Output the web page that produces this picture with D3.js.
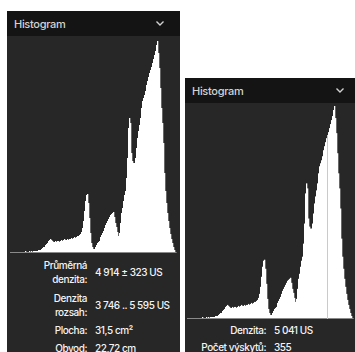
<!DOCTYPE html>
<html><head><meta charset="utf-8">
<script src="https://cdn.jsdelivr.net/npm/d3@7"></script>
<style>
html,body{margin:0;padding:0;background:#fff;}
svg{display:block;}
text{font-family:Inter,"Noto Sans",sans-serif;}
</style></head>
<body>
<svg id="c" width="355" height="352"></svg>
<script>
// Histogram bins: density start (US), bin width, counts per bin
const densityStart = 3640;
const binWidth = 10;
const counts = [
  1,1,1,1,1,1,1,1,1,1, 1,1,1,1,1,2,1,1,1,2, 1,2,1,2,2,2,2,2,3,3,
  3,4,5,6,6,8,9,10,12,13,
  14,13,12,11,11,12,11,12,12,11,
  12,13,12,13,14,13,13,14,13,14,
  14,15,14,15,16,15,16,17,17,18,
  19,21,25,32,42,52,58,59,50,35,
  20,10,6,4,4,6,8,10,11,12,
  16,18,20,22,25,28,30,32,34,36,
  38,39,40,41,36,30,26,21,17,20,
  30,40,45,52,58,62,75,95,125,135,
  130,100,92,90,90,95,105,115,122,128,
  135,145,152,155,158,162,168,172,176,180,
  183,186,190,194,198,202,208,212,200,185,
  165,145,130,110,80,62,50,40,32,25,
  19,14,10,6,3,1
];
const title = "Histogram";
const leftLabels = [["Průměrná","denzita:"],["Denzita","rozsah:"],["Plocha:"],["Obvod:"]];
const leftValues = ["4 914 ± 323 US","3 746 .. 5 595 US","31,5 cm²","22,72 cm"];
const rightLabels = [["Denzita:"],["Počet výskytů:"]];
const rightValues = ["5 041 US","355"];
const markerDensity = 5041;

const svg = d3.select("#c");
const densities = counts.map((c,i)=>densityStart + i*binWidth);

function panel(opt){
  const g = svg.append("g");
  g.append("rect").attr("x",opt.x).attr("y",opt.y).attr("width",opt.w).attr("height",opt.h).attr("fill","#272727");
  g.append("rect").attr("x",opt.x).attr("y",opt.y).attr("width",opt.w).attr("height",25).attr("fill","#141414");
  g.append("text").attr("x",opt.x+7).attr("y",opt.y+16.5).attr("fill","#d2d2d2")
    .attr("font-size",11).attr("font-weight",500).attr("letter-spacing",-0.3).text(title);
  const cx = opt.x + opt.chev, cy = opt.y + 12.5;
  g.append("path").attr("d",`M${cx-3.5},${cy-2} L${cx},${cy+1.5} L${cx+3.5},${cy-2}`)
    .attr("fill","none").attr("stroke","#d2d2d2").attr("stroke-width",1.4);

  const x = d3.scaleBand().domain(densities).range([opt.hx0, opt.hx1]).padding(0);
  const y = d3.scaleLinear().domain([0, d3.max(counts)]).range([opt.base, opt.base - opt.hh]);
  g.append("g").selectAll("rect").data(counts).join("rect")
    .attr("x",(d,i)=>x(densities[i])).attr("width",x.bandwidth()+0.3)
    .attr("y",d=>y(d)).attr("height",d=>opt.base - y(d)).attr("fill","#ffffff");
  g.append("line").attr("x1",opt.hx0).attr("x2",opt.hx1).attr("y1",opt.base-0.5).attr("y2",opt.base-0.5)
    .attr("stroke","#8a8a8a").attr("stroke-width",1);
  if(opt.marker){
    const idx = Math.round((markerDensity - densityStart)/binWidth);
    const mx = x(densities[idx]) + x.bandwidth()/2;
    g.append("line").attr("x1",mx).attr("x2",mx).attr("y1",opt.base).attr("y2",y(counts[idx]))
      .attr("stroke","#f4b8b8").attr("stroke-width",1);
  }
  return g;
}

function stats(g, labels, values, xl, rows){
  labels.forEach((lab,i)=>{
    const r = rows[i];
    lab.forEach((t,j)=>{
      const yy = lab.length===1 ? r : r - 6.5 + j*14;
      g.append("text").attr("x",xl).attr("y",yy).attr("dy","0.35em").attr("text-anchor","end")
        .attr("fill","#f4f4f4").attr("font-size",10).attr("font-weight",500).attr("letter-spacing",-0.45).text(t);
    });
    g.append("text").attr("x",xl+8).attr("y",r).attr("dy","0.35em")
      .attr("fill","#f4f4f4").attr("font-size",10).attr("font-weight",500).attr("letter-spacing",-0.45).text(values[i]);
  });
}

const gl = panel({x:7,y:11,w:173,h:341,chev:153,hx0:10,hx1:176,base:253,hh:212});
stats(gl, leftLabels, leftValues, 87, [272,305,330,348]);

const gr = panel({x:185,y:78,w:170,h:274,chev:155,hx0:187,hx1:353,base:319,hh:213,marker:true});
stats(gr, rightLabels, rightValues, 266, [330,347]);
</script>
</body></html>
